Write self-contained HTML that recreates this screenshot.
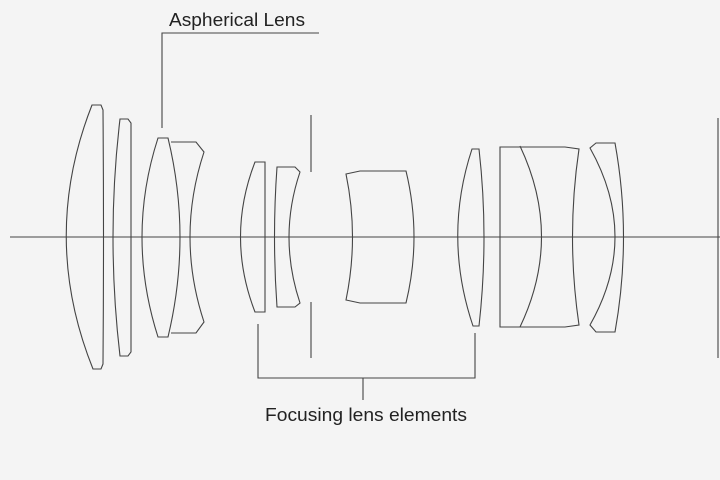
<!DOCTYPE html>
<html><head><meta charset="utf-8"><style>
html,body{margin:0;padding:0;background:#f4f4f4;}
svg{display:block;}
text{font-family:"Liberation Sans",sans-serif;fill:#222;}
</style></head><body>
<svg width="720" height="480" viewBox="0 0 720 480" xmlns="http://www.w3.org/2000/svg">
<rect width="720" height="480" fill="#f4f4f4"/>
<g fill="none" stroke="#444" stroke-width="1.1">
<line x1="10" y1="237" x2="720" y2="237"/>
<path d="M92,105 L101,105 L103,110 Q104,237 103,364 L101,369 L93,369 Q40,237 92,105 Z"/>
<path d="M120,119 L128,119 L131,123 L131,352 L128,356 L120,356 Q106,237 120,119 Z"/>
<path d="M158,138 L168,138 Q192,237 168,337 L158,337 Q126,237 158,138 Z"/>
<path d="M171,142 L196,142 L204,152 Q176,237 204,322 L196,333 L171,333"/>
<path d="M255,162 L265,162 L265,312 L255,312 Q226,237 255,162 Z"/>
<path d="M277,167 L295,167 L300,172 Q278,237 300,303 L295,307 L277,307 Q272,237 277,167 Z"/>
<line x1="311" y1="115" x2="311" y2="172"/>
<line x1="311" y1="302" x2="311" y2="358"/>
<path d="M346,174 L360,171 L406,171 Q422,237 406,303 L360,303 L346,300 Q359,237 346,174 Z"/>
<path d="M472,149 L479,149 Q489,237 479,326 L473,326 Q443,237 472,149 Z"/>
<path d="M500,147 L565,147 L579,149 Q566,237 579,325 L565,327 L500,327 Z"/>
<path d="M520,146 Q563,237 520,327"/>
<path d="M596,143 L615,143 Q632,237 615,332 L596,332 L590,325 Q640,237 590,148 Z"/>
<line x1="718" y1="118" x2="718" y2="358"/>
<polyline points="162,128 162,33 319,33"/>
<polyline points="258,324 258,378 475,378 475,333"/>
<line x1="363" y1="378" x2="363" y2="400"/>
</g>
<text x="169" y="26" font-size="18" textLength="136" lengthAdjust="spacingAndGlyphs">Aspherical Lens</text>
<text x="265" y="421" font-size="18" textLength="202" lengthAdjust="spacingAndGlyphs">Focusing lens elements</text>
</svg>
</body></html>
